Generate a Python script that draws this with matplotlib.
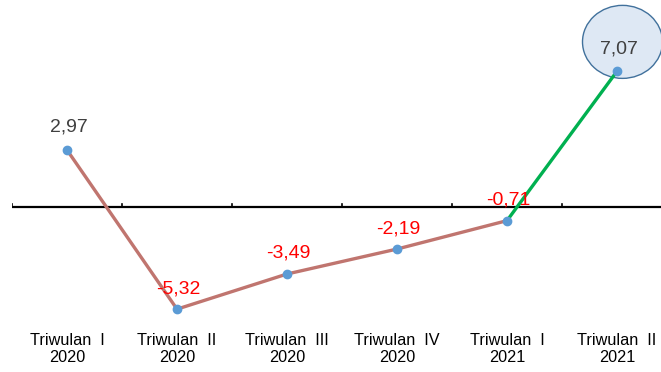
import matplotlib
matplotlib.use("Agg")
import matplotlib.pyplot as plt
from matplotlib.patches import Ellipse

plt.rcParams['font.family'] = ['Liberation Sans', 'DejaVu Sans']

quarters = ["Triwulan  I\n2020", "Triwulan  II\n2020", "Triwulan  III\n2020",
            "Triwulan  IV\n2020", "Triwulan  I\n2021", "Triwulan  II\n2021"]
growth = [2.97, -5.32, -3.49, -2.19, -0.71, 7.07]
value_labels = ["2,97", "-5,32", "-3,49", "-2,19", "-0,71", "7,07"]

fig = plt.figure(figsize=(6.61, 3.72), dpi=100)
ax = fig.add_axes([12 / 661, 0, 649 / 661, 1])
ax.set_xlim(-0.5, -0.5 + 649 / 110)
ax.set_ylim(-165 / 19.2, 207 / 19.2)

x = list(range(len(growth)))
brown = "#C0756F"
green = "#00B050"
marker = "#5B9BD5"

# highlight ellipse around the latest quarter
ax.add_patch(Ellipse((5.05, 8.6), 80 / 110, 73 / 19.2, facecolor="#DEE8F4",
                     edgecolor="#41719C", lw=1.0, zorder=1))

ax.axhline(0, color="black", lw=1.6, zorder=2)
for t in [i - 0.5 for i in range(len(growth))]:
    ax.plot([t, t], [0, 0.17], color="black", lw=1.2, zorder=2)

ax.plot(x[:5], growth[:5], color=brown, lw=2.4, zorder=3, solid_capstyle="round")
ax.plot(x[4:], growth[4:], color=green, lw=2.4, zorder=3, solid_capstyle="round")
ax.plot(x, growth, "o", color=marker, ms=6, zorder=4)

offsets = [22.5, 20, 21, 20, 21, 22]
for xi, v, lab, off in zip(x, growth, value_labels, offsets):
    col = "#404040" if v > 0 else "#FF0000"
    ax.text(xi + 0.015, v + off / 19.2, lab, ha="center", va="center",
            fontsize=14, color=col, zorder=5)

for xi, q in zip(x, quarters):
    ax.text(xi, -142 / 19.2, q, ha="center", va="center", fontsize=11.7,
            color="black", linespacing=1.2)

ax.axis("off")
fig.savefig("out.png", dpi=100)
